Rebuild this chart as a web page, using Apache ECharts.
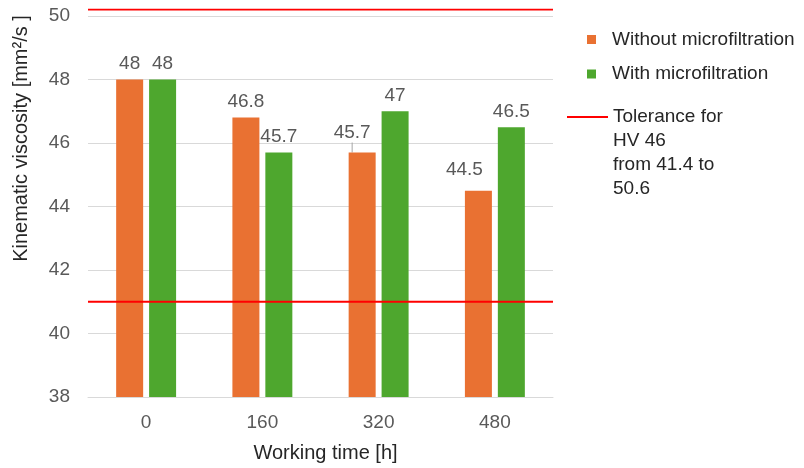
<!DOCTYPE html>
<html>
<head>
<meta charset="utf-8">
<title>Kinematic viscosity vs working time</title>
<script src="https://cdn.jsdelivr.net/npm/echarts@6/dist/echarts.min.js"></script>
<style>
  html, body { margin: 0; padding: 0; background: #ffffff; }
  #chart { width: 804px; height: 468px; }
</style>
</head>
<body>
<div id="chart"></div>
<script>
// Working time categories [h]
const workingHours = ['0', '160', '320', '480'];
// Kinematic viscosity [mm²/s]
const withoutMicrofiltration = [48, 46.8, 45.7, 44.5];
const withMicrofiltration = [48, 45.7, 47, 46.5];
// Tolerance band lines (lower, upper)
const toleranceLines = [41.0, 50.2];
// Value axis ticks
const yMin = 38, yMax = 50, yStep = 2;

const FONT = "'Liberation Sans', Arial, sans-serif";
const ORANGE = '#E97132';
const GREEN = '#4EA72E';
const RED = '#FF0000';
const LABEL_GRAY = '#595959';
const TITLE_DARK = '#262626';

const chart = echarts.init(document.getElementById('chart'), null, { renderer: 'canvas' });

// label nudges (dx, dy) for the bars whose labels sit off-centre
const orangeLabelShift = { 2: [-10, -4], 3: [-14, -5] };

const toleranceName = 'Tolerance for HV 46 from 41.4 to 50.6';

// each tolerance line runs across the full plot width (hidden 0..1 helper axis)
const toleranceSeries = toleranceLines.map(v => ({
  name: toleranceName,
  type: 'line',
  xAxisIndex: 1,
  yAxisIndex: 0,
  data: [[0, v], [1, v]],
  clip: false,
  showSymbol: false,
  silent: true,
  itemStyle: { color: RED },
  lineStyle: { color: RED, width: 1.8 },
  emphasis: { disabled: true },
  z: 5
}));

chart.setOption({
  animation: false,
  backgroundColor: '#ffffff',
  textStyle: { fontFamily: FONT },
  grid: {
    left: 88, right: 251, top: 16, bottom: 71,
    containLabel: false,
    outerBoundsMode: 'none'
  },
  legend: [
    {
      orient: 'vertical',
      left: 587, top: 29.5,
      padding: 0,
      itemWidth: 9, itemHeight: 9,
      itemGap: 14.5,
      icon: 'rect',
      selectedMode: false,
      data: ['Without microfiltration', 'With microfiltration'],
      textStyle: { fontFamily: FONT, fontSize: 19, color: TITLE_DARK, lineHeight: 20, padding: [0, 0, 0, 11] }
    },
    {
      orient: 'vertical',
      left: 567, top: 33,
      padding: 0,
      itemWidth: 41, itemHeight: 2,
      icon: 'rect',
      selectedMode: false,
      data: [toleranceName],
      // three empty lines above keep the first text line level with the key line
      formatter: () => '\n\n\nTolerance for\nHV 46\nfrom 41.4 to\n50.6',
      textStyle: { fontFamily: FONT, fontSize: 19, color: TITLE_DARK, lineHeight: 24 }
    }
  ],
  xAxis: [
    {
      type: 'category',
      data: workingHours,
      name: 'Working time [h]',
      nameLocation: 'middle',
      nameGap: 46,
      nameTextStyle: { fontFamily: FONT, fontSize: 20, color: TITLE_DARK, padding: [0, 0, 0, 10] },
      axisLine: { show: true, lineStyle: { color: '#D9D9D9', width: 1 } },
      axisTick: { show: false },
      axisLabel: { color: LABEL_GRAY, fontFamily: FONT, fontSize: 19, margin: 16 },
      splitLine: { show: false }
    },
    {
      type: 'value',
      min: 0, max: 1,
      show: false
    }
  ],
  yAxis: {
    type: 'value',
    min: yMin, max: yMax, interval: yStep,
    name: 'Kinematic viscosity [mm²/s ]',
    nameLocation: 'middle',
    nameRotate: 90,
    nameGap: 57,
    nameTextStyle: { fontFamily: FONT, fontSize: 20, color: TITLE_DARK, padding: [0, 0, 0, 136] },
    axisLine: { show: false },
    axisTick: { show: false },
    axisLabel: { color: LABEL_GRAY, fontFamily: FONT, fontSize: 19, margin: 18 },
    splitLine: { show: true, lineStyle: { color: '#D9D9D9', width: 1 } }
  },
  series: [
    {
      name: 'Without microfiltration',
      type: 'bar',
      barWidth: 27,
      barGap: '22%',
      itemStyle: { color: ORANGE },
      data: withoutMicrofiltration.map((v, i) => i === 2
        ? { value: v, labelLine: { show: true } }
        : { value: v }),
      label: {
        show: true, position: 'top', distance: 6,
        color: LABEL_GRAY, fontFamily: FONT, fontSize: 19
      },
      labelLine: { show: false, lineStyle: { color: '#A6A6A6', width: 1 } },
      labelLayout: (p) => {
        const s = orangeLabelShift[p.dataIndex];
        return s ? { dx: s[0], dy: s[1] } : {};
      },
      silent: true
    },
    {
      name: 'With microfiltration',
      type: 'bar',
      barWidth: 27,
      barGap: '22%',
      itemStyle: { color: GREEN },
      data: withMicrofiltration,
      label: {
        show: true, position: 'top', distance: 6,
        color: LABEL_GRAY, fontFamily: FONT, fontSize: 19
      },
      silent: true
    },
    ...toleranceSeries
  ]
});
</script>
</body>
</html>
